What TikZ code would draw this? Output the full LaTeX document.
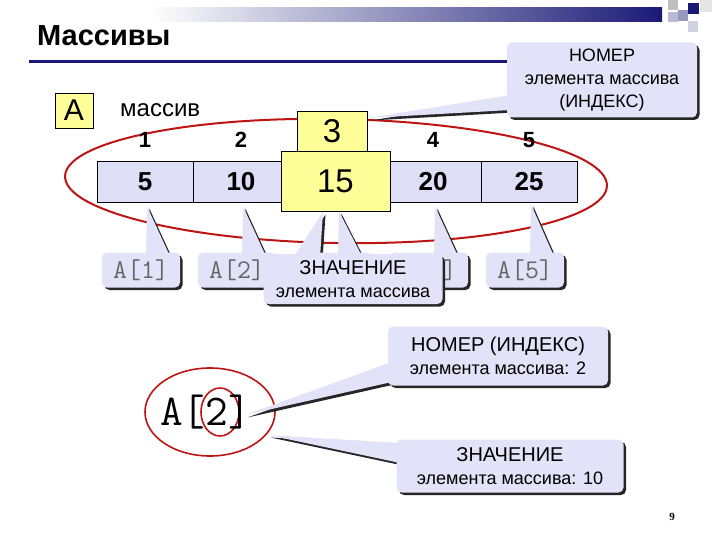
\documentclass[tikz,border=0pt]{standalone}
\usepackage{fontspec}
\setmainfont{Liberation Sans}
\newfontfamily\pagefont{Liberation Serif}
\usepackage{xcolor}
\usetikzlibrary{calc,shadows}
\pgfdeclarelayer{bottom}
\pgfdeclarelayer{back}
\pgfsetlayers{bottom,back,main}
\definecolor{lila}{RGB}{226,226,248}
\definecolor{cellc}{RGB}{222,222,246}
\definecolor{gelb}{RGB}{255,255,153}
\definecolor{navy}{RGB}{26,26,118}
\definecolor{rot}{RGB}{190,20,20}
\tikzset{
 dropsh/.style={drop shadow={shadow xshift=2.5pt,shadow yshift=-2.5pt,fill=black!85,opacity=1}},
 callbox/.style={fill=lila,rounded corners=5pt,inner sep=0pt,align=center,
  font=\fontsize{18}{23}\selectfont,dropsh},
 wedge/.style={fill=lila,dropsh},
 cellbox/.style={draw,line width=0.6pt,fill=cellc,minimum width=96pt,minimum height=41pt,
  inner sep=0pt,font=\fontsize{26}{26}\selectfont\bfseries},
 yelbox/.style={draw,line width=0.6pt,fill=gelb,inner sep=0pt},
 idx/.style={inner sep=0pt,font=\fontsize{22}{22}\selectfont\bfseries},
 aname/.style={font=\fontsize{27}{27}\selectfont\ttfamily,text=black!60}
}
\begin{document}
\begin{tikzpicture}[x=1pt,y=-1pt]
 \useasboundingbox (0,0) rectangle (720,540);
 \shade[left color=white,right color=navy] (150,8) rectangle (662,22);
 \fill[black!25] (668,0) rectangle (678,10);
 \fill[navy] (688,3) rectangle (699,14);
 \fill[navy!45] (678,10) rectangle (688,21);
 \fill[navy!30] (668,12) rectangle (678,22);
 \fill[navy!20] (688,21) rectangle (698,32);
 \fill[black!10] (700,0) rectangle (712,12);
 \node[anchor=base west,inner sep=0pt,font=\fontsize{29}{29}\selectfont\bfseries] (title) at (37,46) {Массивы};
 \draw[navy,line width=3pt] (29,62) -- (690,62);
 \begin{pgfonlayer}{bottom}
  \draw[rot,line width=2pt,rotate around={-1:(336,181)}] (336,181) ellipse [x radius=271,y radius=62];
  \draw[rot,line width=1.6pt] (210,412) ellipse [x radius=65,y radius=44];
  \draw[rot,line width=1.6pt] (220,412) ellipse [x radius=19,y radius=24];
 \end{pgfonlayer}
 \node[yelbox,minimum width=38pt,minimum height=35pt,font=\fontsize{30}{30}\selectfont] (arr) at (74,110.5) {A};
 \node[anchor=base west,inner sep=0pt,font=\fontsize{24}{24}\selectfont] (word) at (120,117) {массив};
 \foreach \v [count=\i] in {5,10,{},20,25}
  \node[cellbox] (c\i) at ({145+96*(\i-1)},181.5) {\v};
 \foreach \i in {1,2,4,5}
  \node[idx] (n\i) at ({145+96*(\i-1)},140) {\i};
 \node[yelbox,minimum width=70pt,minimum height=41pt,font=\fontsize{33}{33}\selectfont] (n3) at (332,131.5) {3};
 \node[yelbox,minimum width=109pt,minimum height=60pt,font=\fontsize{33}{33}\selectfont] (v3) at (335.5,181) {15};
 \foreach \i/\ty/\tt in {1/46/A[1],2/46/A[2],3/41/,4/46/A[4],5/48/A[5]}{
  \node[callbox,aname,minimum width=78pt,minimum height=35pt] (a\i) at ({141+96*(\i-1)},270) {\tt};
  \coordinate (p\i) at ($(a\i.north)+(6,-\ty)$);
  \begin{pgfonlayer}{back}
   \fill[wedge] (p\i) -- ($(a\i.north)+(5,4)$) -- ($(a\i.north)+(29,4)$) -- cycle;
  \end{pgfonlayer}
 }
 \node[callbox,minimum width=179pt,minimum height=50pt] (val) at (353,279)
  {{\fontsize{20}{23}\selectfont ЗНАЧЕНИЕ}\\элемента массива};
 \coordinate (pv) at (323,212);
 \begin{pgfonlayer}{back}
  \fill[wedge] (pv) -- ($(val.north)+(-60,4)$) -- ($(val.north)+(-33,4)$) -- cycle;
 \end{pgfonlayer}
 \node[callbox,minimum width=190pt,minimum height=75pt] (num) at (602,80)
  {НОМЕР\\элемента массива\\(ИНДЕКС)};
 \coordinate (pn) at (368,118);
 \begin{pgfonlayer}{back}
  \fill[wedge] (pn) -- ($(num.west)+(4,15)$) -- ($(num.west)+(4,30)$) -- cycle;
 \end{pgfonlayer}
 \node[anchor=base west,inner sep=0pt,font=\fontsize{44}{44}\selectfont\ttfamily] (elem) at (160,425) {A[2]};
 \node[callbox,minimum width=220pt,minimum height=59pt] (ind) at (498,356)
  {{\fontsize{20}{23}\selectfont НОМЕР (ИНДЕКС)}\\элемента массива: 2};
 \coordinate (pi) at (245,415);
 \node[callbox,minimum width=227pt,minimum height=53pt] (zn) at (510,466)
  {{\fontsize{20}{23}\selectfont ЗНАЧЕНИЕ}\\элемента массива: 10};
 \coordinate (pz) at (268,435);
 \begin{pgfonlayer}{back}
  \fill[wedge] (pi) -- ($(ind.west)+(4,6)$) -- ($(ind.west)+(4,26)$) -- cycle;
  \fill[wedge] (pz) -- ($(zn.west)+(4,-23)$) -- ($(zn.west)+(4,-3)$) -- cycle;
 \end{pgfonlayer}
 \node[inner sep=0pt,font=\pagefont\bfseries\fontsize{11}{11}\selectfont] (pg) at (672,517) {9};
\end{tikzpicture}
\end{document}
